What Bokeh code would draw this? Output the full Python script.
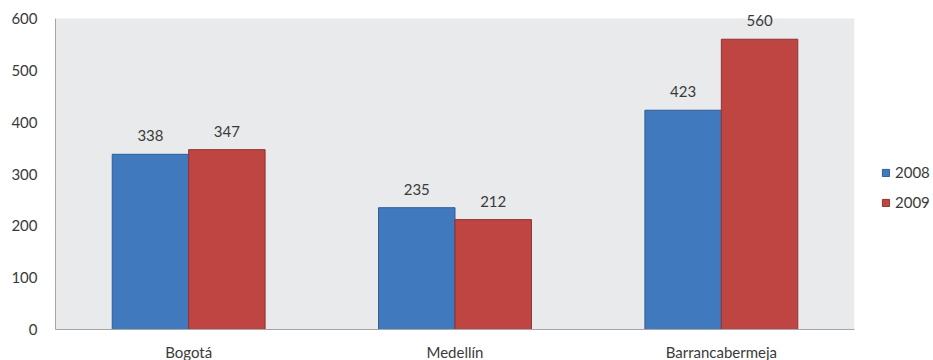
from bokeh.plotting import figure
from bokeh.models import (ColumnDataSource, FactorRange, Range1d, FixedTicker, Legend,
                          LegendItem, LabelSet, BoxAnnotation)
from bokeh.transform import dodge
from bokeh.core.properties import value
from bokeh.embed import file_html
from bokeh.resources import INLINE

cities = ["Bogotá", "Medellín", "Barrancabermeja"]
v2008 = [338, 235, 423]
v2009 = [347, 212, 560]
series = ["2008", "2009"]
y_ticks = [0, 100, 200, 300, 400, 500, 600]
y_max = 600

FONT = "Lato"
TXT = "#3a3a3a"
FS = "15px"

src = ColumnDataSource(dict(city=cities, a=v2008, b=v2009,
                            la=[str(v) for v in v2008], lb=[str(v) for v in v2009]))

FH = 325
p = figure(x_range=FactorRange(*cities), y_range=Range1d(0, y_max * FH / 311),
           frame_width=799, frame_height=FH,
           output_backend="svg", toolbar_location=None,
           min_border_left=55, min_border_top=4, min_border_bottom=31, min_border_right=79)
p.background_fill_color = "white"
p.border_fill_color = "white"
p.outline_line_color = None
p.xgrid.visible = False
p.ygrid.visible = False
p.add_layout(BoxAnnotation(bottom=0, top=y_max, fill_color="#E9EAEC", fill_alpha=1,
                           line_color=None, level="underlay"))

w = 0.287
r1 = p.vbar(x=dodge("city", -w / 2, range=p.x_range), top="a", width=w, source=src,
            fill_color="#4179BE", line_color="#2F5E94", line_width=1)
r2 = p.vbar(x=dodge("city", w / 2, range=p.x_range), top="b", width=w, source=src,
            fill_color="#BF4543", line_color="#8E3432", line_width=1)

for col, lab, off in (("a", "la", -w / 2), ("b", "lb", w / 2)):
    p.add_layout(LabelSet(x=dodge("city", off, range=p.x_range), y=col, text=lab, source=src,
                          y_offset=13, text_align="center", text_baseline="bottom",
                          text_font=value(FONT), text_font_size=FS, text_color=TXT))

p.yaxis.ticker = FixedTicker(ticks=y_ticks)
p.yaxis.bounds = (0, y_max)
for ax in (p.xaxis, p.yaxis):
    ax.axis_line_color = "#A6A6A6"
    ax.major_tick_line_color = None
    ax.minor_tick_line_color = None
    ax.major_label_text_font = FONT
    ax.major_label_text_font_size = FS
    ax.major_label_text_color = TXT
p.yaxis.major_label_standoff = 12
p.xaxis.major_label_standoff = 7

legend = Legend(items=[LegendItem(label=series[0], renderers=[r1]),
                       LegendItem(label=series[1], renderers=[r2])],
                location=(27, 118), glyph_width=9, glyph_height=9, spacing=12,
                label_text_font=FONT, label_text_font_size=FS, label_text_color=TXT,
                border_line_color=None, background_fill_alpha=0, padding=0, margin=0,
                label_standoff=5)
p.add_layout(legend, "right")

open("out.html", "w").write(file_html(p, INLINE))
